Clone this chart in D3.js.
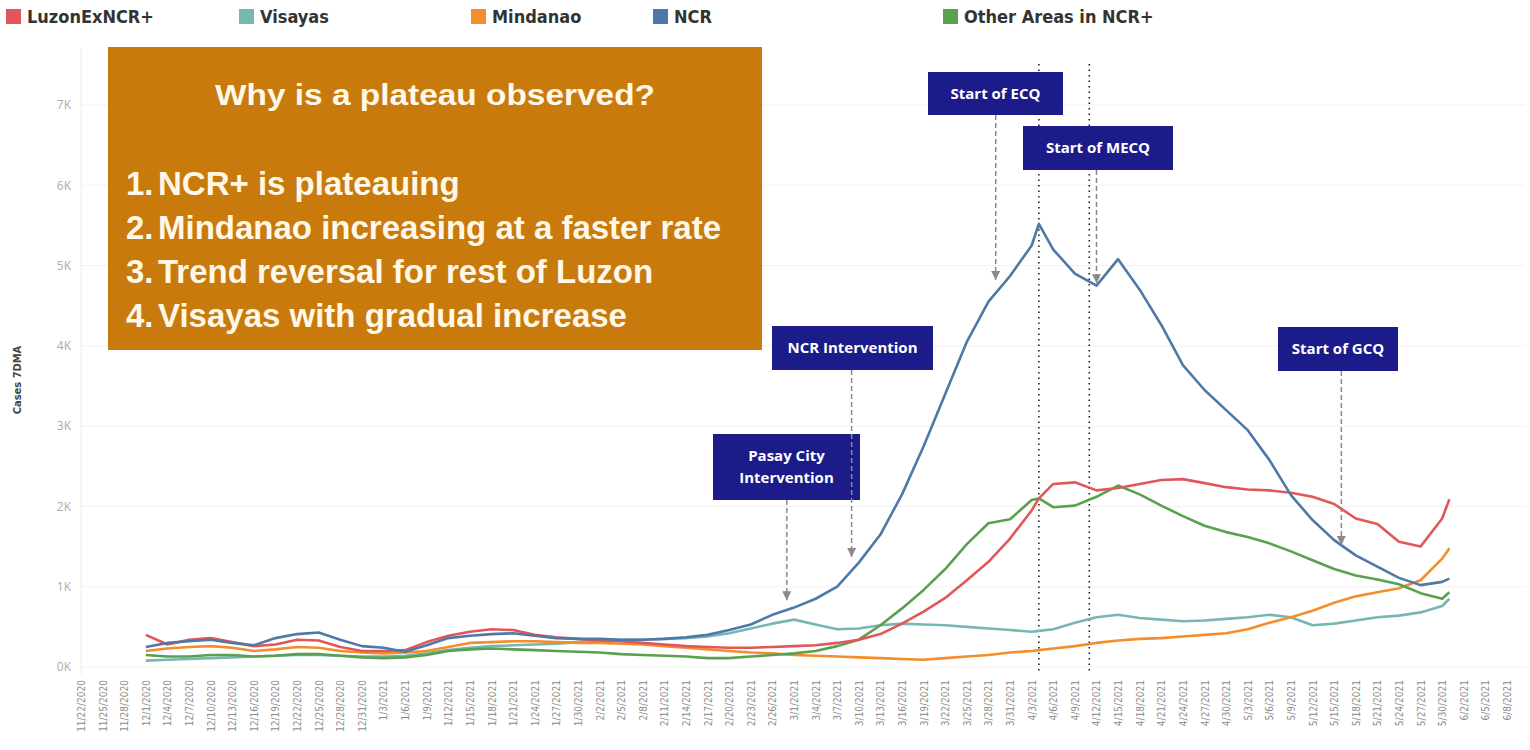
<!DOCTYPE html>
<html>
<head>
<meta charset="utf-8">
<title>Cases 7DMA by area</title>
<style>
  body { margin: 0; background: #fff; }
  svg { display: block; }
</style>
</head>
<body>
<svg id="container" width="1530" height="750"></svg>
<script src="https://d3js.org/d3.v7.min.js"></script>
<script>
// values (7-day moving average of cases)
const dates = ["12/1/2020","12/4/2020","12/7/2020","12/10/2020","12/13/2020","12/16/2020","12/19/2020","12/22/2020",
  "12/25/2020","12/28/2020","12/31/2020","1/3/2021","1/6/2021","1/9/2021","1/12/2021","1/15/2021","1/18/2021",
  "1/21/2021","1/24/2021","1/27/2021","1/30/2021","2/2/2021","2/5/2021","2/8/2021","2/11/2021","2/14/2021",
  "2/17/2021","2/20/2021","2/23/2021","2/26/2021","3/1/2021","3/4/2021","3/7/2021","3/10/2021","3/13/2021",
  "3/16/2021","3/19/2021","3/22/2021","3/25/2021","3/28/2021","3/31/2021","4/3/2021","4/4/2021","4/6/2021",
  "4/9/2021","4/12/2021","4/15/2021","4/18/2021","4/21/2021","4/24/2021","4/27/2021","4/30/2021","5/3/2021",
  "5/6/2021","5/9/2021","5/12/2021","5/15/2021","5/18/2021","5/21/2021","5/24/2021","5/27/2021","5/30/2021","5/31/2021"]

const luzonExNcr = [400,280,340,360,310,260,280,340,330,250,200,200,210,310,390,440,470,460,400,370,350,330,320,300,
  280,260,250,240,240,250,260,270,300,340,410,540,690,860,1080,1310,1600,1950,2100,2280,2300,2200,2230,2280,2330,
  2340,2290,2240,2210,2200,2170,2120,2030,1850,1780,1560,1500,1850,2090]

const visayas = [80,90,100,110,120,130,140,150,150,140,130,130,140,170,210,240,260,270,280,290,310,330,340,340,350,
  360,380,420,480,540,590,530,470,480,520,540,530,520,500,480,460,440,450,470,550,620,650,610,590,570,580,600,620,
  650,620,520,540,580,620,640,680,760,850]

const mindanao = [200,230,250,260,240,200,220,250,240,200,180,170,180,200,250,300,310,320,320,310,300,300,290,280,
  260,240,220,200,180,170,150,140,130,120,110,100,90,110,130,150,180,200,210,230,260,300,330,350,360,380,400,420,
  470,550,620,700,800,880,930,980,1080,1350,1480]

const ncr = [250,300,320,340,300,270,360,410,430,340,260,240,190,270,360,390,410,420,390,360,350,350,340,340,350,370,
  400,460,530,650,740,850,1000,1300,1650,2150,2750,3400,4050,4550,4870,5250,5520,5200,4900,4750,5080,4700,4260,
  3760,3450,3200,2950,2580,2140,1830,1580,1390,1250,1110,1020,1060,1100]

const otherNcrPlus = [150,130,130,150,150,130,140,160,160,140,120,110,120,150,200,220,230,220,210,200,190,180,160,
  150,140,130,110,110,130,150,170,200,260,340,520,730,960,1220,1530,1790,1840,2080,2100,1990,2010,2120,2260,2150,
  2010,1880,1760,1680,1620,1540,1440,1330,1220,1140,1090,1030,920,850,930]

const seriesNames = ["LuzonExNCR+", "Visayas", "Mindanao", "NCR", "Other Areas in NCR+"]
const seriesColors = ["#e15759", "#76b7b2", "#f28e2b", "#4e79a7", "#59a14f"]
const yTicks = [0, 1000, 2000, 3000, 4000, 5000, 6000, 7000]

const eventLabels = [["Pasay City", "Intervention"], ["NCR Intervention"], ["Start of ECQ"], ["Start of MECQ"], ["Start of GCQ"]]
const eventDates = ["2/28/2021", "3/9/2021", "3/29/2021", "4/12/2021", "5/16/2021"]
const eventValues = [830, 1370, 4820, 4780, 1520]
const markerDates = ["4/4/2021", "4/11/2021"]

const noteTitle = "Why is a plateau observed?"
const noteItems = ["NCR+ is plateauing", "Mindanao increasing at a faster rate",
  "Trend reversal for rest of Luzon", "Visayas with gradual increase"]

// layout
const legendX = [6, 239, 471, 653, 943]
const boxLayout = [
  {x: 713, y: 434, w: 147, h: 66},
  {x: 772, y: 326, w: 161, h: 44},
  {x: 928, y: 72, w: 135, h: 43},
  {x: 1023, y: 126, w: 150, h: 44},
  {x: 1278, y: 327, w: 120, h: 44}
]

let svg = d3.select("#container")
let parse = d3.timeParse("%m/%d/%Y")

let x = d3.scaleTime()
          .domain([parse("11/22/2020"), parse("6/8/2021")])
          .range([81, 1507])
let y = d3.scaleLinear()
          .domain([0, 7000])
          .range([667, 105])

// grid
svg.append("g").selectAll("line")
   .data(yTicks)
   .join("line")
   .attr("x1", 81).attr("x2", 1525)
   .attr("y1", d => y(d)).attr("y2", d => y(d))
   .attr("stroke", "#f1f1f1")
svg.append("line")
   .attr("x1", 81).attr("x2", 81).attr("y1", 48).attr("y2", 674)
   .attr("stroke", "#ececec")

// y axis
let yAxis = d3.axisLeft(y)
              .tickValues(yTicks)
              .tickFormat(d => d / 1000 + "K")
              .tickSize(0)
              .tickPadding(0)
svg.append("g")
   .attr("transform", "translate(71,0)")
   .call(yAxis)
   .call(g => g.select(".domain").remove())
   .selectAll("text")
   .attr("fill", "#ababab")
   .style("font-family", "'Open Sans', sans-serif")
   .style("font-size", "12px")

svg.append("text")
   .attr("transform", "translate(21,380) rotate(-90)")
   .attr("text-anchor", "middle")
   .attr("fill", "#444")
   .style("font-family", "'DejaVu Sans Condensed', sans-serif")
   .style("font-size", "11px")
   .style("font-weight", "bold")
   .text("Cases 7DMA")

// x axis
let xTicks = d3.timeDay.range(parse("11/22/2020"), parse("6/9/2021")).filter((d, i) => i % 3 === 0)
let xAxis = d3.axisBottom(x)
              .tickValues(xTicks)
              .tickFormat(d3.timeFormat("%-m/%-d/%Y"))
              .tickSize(0)
              .tickPadding(0)
svg.append("g")
   .attr("transform", "translate(0,677)")
   .call(xAxis)
   .call(g => g.select(".domain").remove())
   .selectAll("text")
   .attr("transform", "rotate(-90)")
   .attr("x", -3)
   .attr("y", 0)
   .attr("dy", "0.35em")
   .style("text-anchor", "end")
   .attr("fill", "#8c8c8c")
   .style("font-family", "'DejaVu Sans Condensed', sans-serif")
   .style("font-size", "10px")

// dotted reference lines
svg.append("g").selectAll("line")
   .data(markerDates)
   .join("line")
   .attr("x1", d => x(parse(d))).attr("x2", d => x(parse(d)))
   .attr("y1", 64).attr("y2", 674)
   .attr("stroke", "#222")
   .attr("stroke-width", 1.6)
   .attr("stroke-dasharray", "1.5,4")

// series lines
let parsedDates = dates.map(parse)
let allSeries = [luzonExNcr, visayas, mindanao, ncr, otherNcrPlus]
let drawOrder = [1, 2, 4, 0, 3]
let line = d3.line()
             .x((d, i) => x(parsedDates[i]))
             .y(d => y(d))

svg.append("g").selectAll("path")
   .data(drawOrder)
   .join("path")
   .attr("d", k => line(allSeries[k]))
   .attr("fill", "none")
   .attr("stroke", k => seriesColors[k])
   .attr("stroke-width", 2.6)
   .attr("stroke-linejoin", "round")

// legend
let legend = svg.append("g").selectAll("g")
                .data(seriesNames)
                .join("g")
                .attr("transform", (d, i) => `translate(${legendX[i]},0)`)
legend.append("rect")
      .attr("x", 0).attr("y", 9)
      .attr("width", 15).attr("height", 15)
      .attr("fill", (d, i) => seriesColors[i])
legend.append("text")
      .attr("x", 21).attr("y", 17)
      .attr("dy", "0.35em")
      .attr("fill", "#333")
      .style("font-family", "'DejaVu Sans Condensed', sans-serif")
      .style("font-weight", "bold")
      .style("font-size", "18px")
      .text(d => d)

// note box
let note = svg.append("g")
note.append("rect")
    .attr("x", 108).attr("y", 47)
    .attr("width", 654).attr("height", 303)
    .attr("fill", "#c87b0c")
note.append("text")
    .attr("x", 215).attr("y", 105)
    .attr("textLength", 440)
    .attr("lengthAdjust", "spacingAndGlyphs")
    .attr("fill", "#fff8e8")
    .style("font-family", "'Liberation Sans', Arial, sans-serif")
    .style("font-weight", "bold")
    .style("font-size", "29px")
    .text(noteTitle)
let items = note.selectAll(".item")
                .data(noteItems)
                .join("text")
                .attr("class", "item")
                .attr("y", (d, i) => 195 + i * 44)
                .attr("fill", "#fff8e8")
                .style("font-family", "'Liberation Sans', Arial, sans-serif")
                .style("font-weight", "bold")
                .style("font-size", "33px")
items.append("tspan").attr("x", 126).text((d, i) => (i + 1) + ".")
items.append("tspan").attr("x", 158).text(d => d)

// event annotations
svg.append("defs").append("marker")
   .attr("id", "arrow")
   .attr("viewBox", "0 0 10 10")
   .attr("refX", 10).attr("refY", 5)
   .attr("markerWidth", 6).attr("markerHeight", 6)
   .attr("orient", "auto")
   .append("path")
   .attr("d", "M0,0L10,5L0,10z")
   .attr("fill", "#8a8a8a")

let events = svg.append("g").selectAll("g")
                .data(eventLabels)
                .join("g")
events.append("line")
      .attr("x1", (d, i) => x(parse(eventDates[i])))
      .attr("x2", (d, i) => x(parse(eventDates[i])))
      .attr("y1", (d, i) => boxLayout[i].y + boxLayout[i].h)
      .attr("y2", (d, i) => y(eventValues[i]))
      .attr("stroke", "#8a8a8a")
      .attr("stroke-width", 1.5)
      .attr("stroke-dasharray", "5,3")
      .attr("marker-end", "url(#arrow)")
events.append("rect")
      .attr("x", (d, i) => boxLayout[i].x)
      .attr("y", (d, i) => boxLayout[i].y)
      .attr("width", (d, i) => boxLayout[i].w)
      .attr("height", (d, i) => boxLayout[i].h)
      .attr("fill", "#1c1b8a")
events.each(function (lines, i) {
  let b = boxLayout[i]
  let t = d3.select(this).append("text")
            .attr("text-anchor", "middle")
            .attr("fill", "#fff")
            .style("font-family", "'Open Sans', sans-serif")
            .style("font-weight", "bold")
            .style("font-size", "15px")
  lines.forEach((s, j) => {
    t.append("tspan")
     .attr("x", b.x + b.w / 2)
     .attr("y", b.y + b.h / 2 + (j - (lines.length - 1) / 2) * 22)
     .attr("dy", "0.35em")
     .text(s)
  })
})
</script>
</body>
</html>
